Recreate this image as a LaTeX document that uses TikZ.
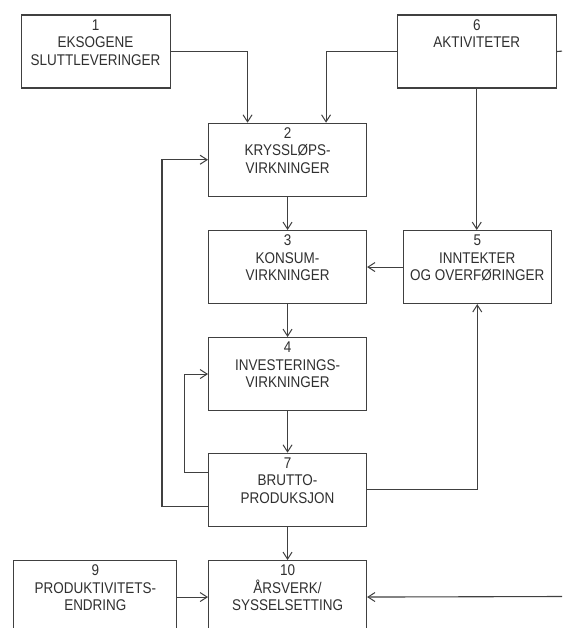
\documentclass[tikz,border=0pt]{standalone}
\usepackage{fontspec}
\setmainfont{Liberation Sans}[FakeStretch=0.87]
\usetikzlibrary{arrows.meta}
\definecolor{linec}{HTML}{404040}
\definecolor{textc}{HTML}{303030}
\newcommand{\bxt}[3]{\parbox[c][#2pt][t]{#1pt}{\centering\fontsize{15.5}{17.7}\selectfont\rule{0pt}{15pt}#3}}
\tikzset{
  box/.style={draw=linec, line width=1.1pt, inner sep=0pt, anchor=north west, text=textc},
  conn/.style={draw=linec, line width=1.1pt},
  arr/.style={conn, -{Straight Barb[length=7pt,width=9pt,line width=1pt]}}
}
\begin{document}
\begin{tikzpicture}[x=1pt,y=-1pt]
\clip (0,0) rectangle (562,628);
\fill[white] (0,0) rectangle (562,628);
\node[box] (b1) at (20.5,14.5) {\bxt{149}{73}{1\\EKSOGENE\\SLUTTLEVERINGER}};
\node[box] (b6) at (396.7,14.5) {\bxt{159}{73}{6\\AKTIVITETER}};
\node[box] (b2) at (208,122.7) {\bxt{158}{73}{2\\KRYSSLØPS-\\VIRKNINGER}};
\node[box] (b3) at (208,230) {\bxt{158}{73}{3\\KONSUM-\\VIRKNINGER}};
\node[box] (b5) at (402.7,230) {\bxt{148}{73}{5\\INNTEKTER\\OG OVERFØRINGER}};
\node[box] (b4) at (208,337) {\bxt{158}{73}{4\\INVESTERINGS-\\VIRKNINGER}};
\node[box] (b7) at (208,452.7) {\bxt{158}{73}{7\\BRUTTO-\\PRODUKSJON}};
\node[box] (b9) at (13.3,560) {\bxt{163}{73}{9\\PRODUKTIVITETS-\\ENDRING}};
\node[box] (b10) at (208,560) {\bxt{158}{73}{10\\ÅRSVERK/\\SYSSELSETTING}};
\coordinate (e1) at (562,51.1);
\coordinate (e2) at (562,596.5);
% connectors
\draw[arr] (b1.east) -| ([xshift=-40pt]b2.north);
\draw[arr] (b6.west) -| ([xshift=38.5pt]b2.north);
\draw[conn] (b6.east) -- (e1);
\draw[arr] (b6.south) -- (b6.south |- b5.north);
\draw[arr] (b2.south) -- (b3.north);
\draw[arr] (b5.west) -- (b3.east);
\draw[arr] (b3.south) -- (b4.north);
\draw[arr] (b4.south) -- (b7.north);
\draw[arr] ([yshift=17.5pt]b7.west) -- ++(-23.5,0) |- (b4.west);
\draw[arr] ([yshift=-16.8pt]b7.west) -- ++(-46,0) |- (b2.west);
\draw[arr] (b7.east) -| (b5.south);
\draw[arr] (b7.south) -- (b10.north);
\draw[arr] (b9.east) -- (b10.west);
\draw[arr] (e2) -- (b10.east);
\end{tikzpicture}
\end{document}
